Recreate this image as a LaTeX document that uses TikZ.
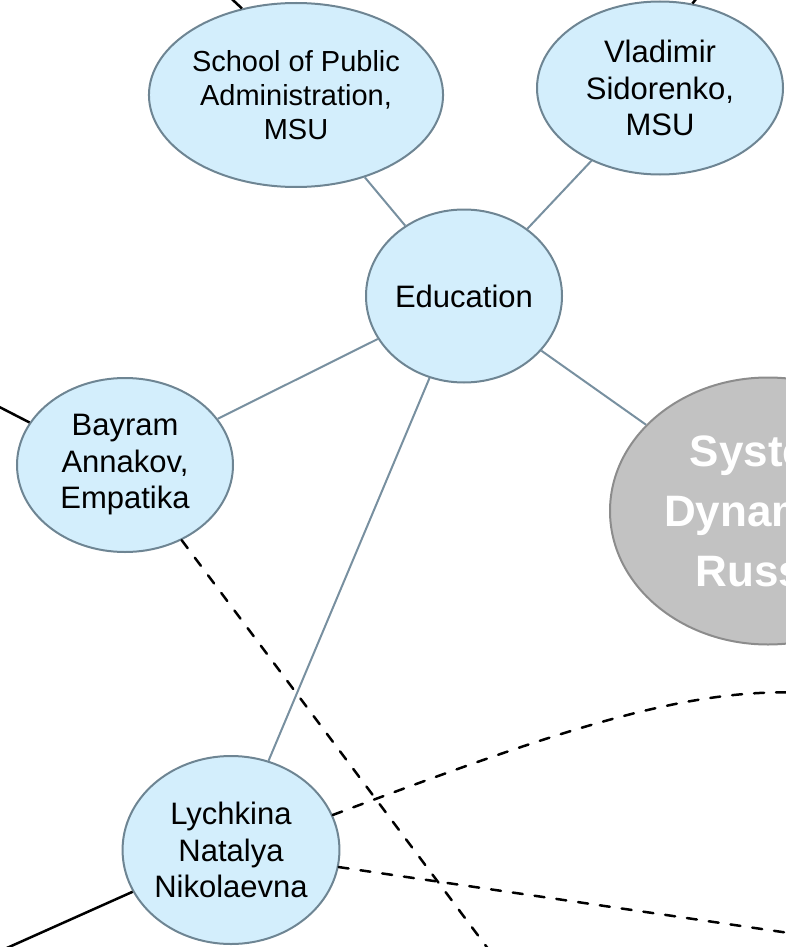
\documentclass[tikz,border=0pt]{standalone}
\usepackage{fontspec}
\setmainfont{Liberation Sans}
\usetikzlibrary{shapes.geometric}
\definecolor{NodeClr}{HTML}{D3EEFC}
\definecolor{BorderClr}{HTML}{6E8593}
\definecolor{LinkClr}{HTML}{7890A0}
\definecolor{HubClr}{HTML}{C2C2C2}
\definecolor{HubBorderClr}{HTML}{8C8C8C}

\begin{document}
\begin{tikzpicture}[x=1pt,y=-1pt,
  person/.style={ellipse,draw=BorderClr,fill=NodeClr,line width=2pt,inner sep=0pt,
    align=center,font=\fontsize{31}{36.5}\selectfont},
  hub/.style={ellipse,draw=HubBorderClr,fill=HubClr,line width=2pt,inner sep=0pt,
    align=center,text=white,font=\fontsize{44}{60}\selectfont\bfseries},
  link/.style={draw=LinkClr,line width=2pt},
  tie/.style={draw=black,line width=2.5pt},
  dashlink/.style={draw=black,line width=2.5pt,line cap=round,dash pattern=on 10pt off 12pt}]

\useasboundingbox (0,0) rectangle (786,947);
\clip (0,0) rectangle (786,947);

\node[person,minimum width=290pt,minimum height=184pt,font=\fontsize{29}{34}\selectfont]
  (school) at (296,95) {School of Public\\Administration,\\MSU};
\node[person,minimum width=246pt,minimum height=173pt] (vlad) at (660,88) {Vladimir\\Sidorenko,\\MSU};
\node[person,minimum width=196pt,minimum height=173pt] (edu) at (464,296) {Education};
\node[person,minimum width=216pt,minimum height=174pt] (bayram) at (125,465) {Bayram\\Annakov,\\Empatika};
\node[person,minimum width=214pt,minimum height=188pt] (lych) at (231,850) {Lychkina\\Natalya\\Nikolaevna};
\node[hub,minimum width=316pt,minimum height=267pt] (sdr) at (768,511) {System\\Dynamics\\Russia};

\coordinate (schoolOut) at (220,-12);
\coordinate (vladOut) at (705,-12);
\coordinate (bayramOut) at (-20,397);
\coordinate (lychOut) at (-20,960);
\coordinate (bayramDash) at (495,958);
\coordinate (lychCurve) at (830,695);
\coordinate (lychDash) at (830,939);

\draw[link] (edu) -- (school);
\draw[link] (edu) -- (vlad);
\draw[link] (edu) -- (bayram);
\draw[link] (edu) -- (lych);
\draw[link] (edu) -- (sdr);

\draw[tie] (school.122) -- (schoolOut);
\draw[tie] (vlad.69) -- (vladOut);
\draw[tie] (bayram.156) -- (bayramOut);
\draw[tie] (lych.203) -- (lychOut);

\draw[dashlink] (bayram.307) -- (bayramDash);
\draw[dashlink] (lych.19) .. controls (560,730) and (700,680) .. (lychCurve);
\draw[dashlink] (lych.351) -- (lychDash);

\end{tikzpicture}
\end{document}
